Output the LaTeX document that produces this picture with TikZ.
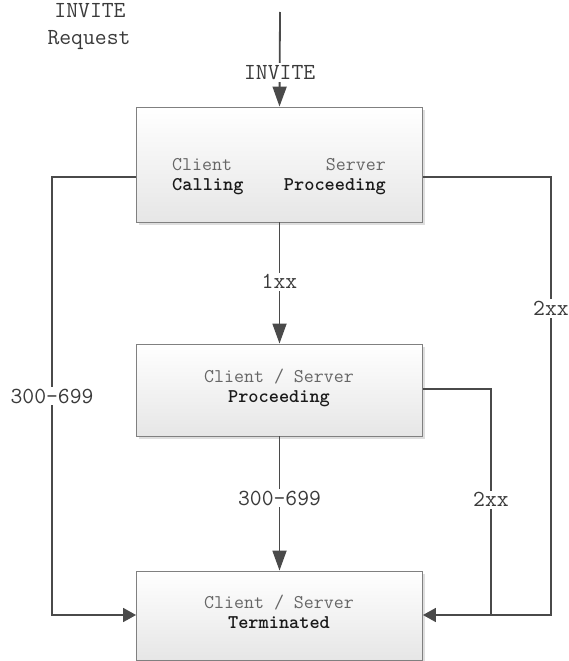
\documentclass[tikz,border=0pt]{standalone}
\usepackage{fontspec}
\usetikzlibrary{arrows.meta,shadows}
\definecolor{linec}{HTML}{4A4A4A}
\definecolor{boxborder}{HTML}{808080}
\definecolor{boxbot}{HTML}{E6E6E6}
\definecolor{lblc}{HTML}{3A3A3A}
\definecolor{subc}{HTML}{666666}
\definecolor{statec}{HTML}{1A1A1A}
\begin{document}
\begin{tikzpicture}[x=1pt,y=-1pt,
  statebox/.style={draw=boxborder, line width=0.9pt, top color=white, bottom color=boxbot,
    minimum width=286pt, inner sep=0pt,
    drop shadow={shadow xshift=2.5pt, shadow yshift=-2.5pt, fill=black!13, opacity=1}},
  conn/.style={draw=linec, line width=1.8pt},
  vtip/.style={-{Triangle[length=20pt,width=14pt]}},
  htip/.style={-{Triangle[length=13pt,width=14pt]}},
  lbl/.style={fill=white, text=lblc, inner sep=2pt, font=\ttfamily\fontsize{23}{25}\selectfont},
  subtxt/.style={text=subc, inner sep=0pt, font=\ttfamily\fontsize{19.4}{21}\selectfont},
  statetxt/.style={text=statec, inner sep=0pt, font=\ttfamily\bfseries\fontsize{19.4}{21}\selectfont},
  toptxt/.style={text=lblc, inner sep=0pt, font=\ttfamily\fontsize{23}{25}\selectfont}
]
\useasboundingbox (0,0) rectangle (568,661);

% boxes
\node[statebox, minimum height=115pt] (b1) at (279.5,164.5) {};
\node[statebox, minimum height=92pt] (b2) at (279.5,390) {};
\node[statebox, minimum height=89pt] (b3) at (279.5,615.5) {};

% box texts
\node[subtxt, anchor=mid west] (c1) at (172,168) {Client};
\node[subtxt, anchor=mid east] (s1) at (386,168) {Server};
\node[statetxt, anchor=mid west] (t1) at (172,188) {Calling};
\node[statetxt, anchor=mid east] (t2) at (386,188) {Proceeding};

\node[subtxt, anchor=mid] (c2) at (279,380) {Client / Server};
\node[statetxt, anchor=mid] (t3) at (279,400) {Proceeding};

\node[subtxt, anchor=mid] (c3) at (279,606) {Client / Server};
\node[statetxt, anchor=mid] (t4) at (279,626) {Terminated};

% top-left caption
\node[toptxt, anchor=mid] (inv) at (90,15) {INVITE};
\node[toptxt, anchor=mid] (req) at (89,42) {Request};

% coordinates
\coordinate (top) at (280,12);
\coordinate (l1) at (52,177);
\coordinate (l2) at (52,615);
\coordinate (r1) at (551,177);
\coordinate (r2) at (551,615);
\coordinate (m1) at (491,389);
\coordinate (m2) at (491,615);

% connectors
\draw[conn, vtip] (top) -- node[lbl, pos=0.64] {INVITE} (b1.north);
\draw[conn, vtip] (b1.south) -- node[lbl, pos=0.49] {1xx} (b2.north);
\draw[conn, vtip] (b2.south) -- node[lbl, pos=0.46] {300-699} (b3.north);
\draw[conn, htip] (b1.west |- l1) -- (l1) -- node[lbl, pos=0.5] {300-699} (l2) -- (b3.west |- l2);
\draw[conn, htip] (b1.east |- r1) -- (r1) -- node[lbl, pos=0.30] {2xx} (r2) -- (b3.east |- r2);
\draw[conn] (b2.east |- m1) -- (m1) -- node[lbl, pos=0.49] {2xx} (m2);
\end{tikzpicture}
\end{document}
